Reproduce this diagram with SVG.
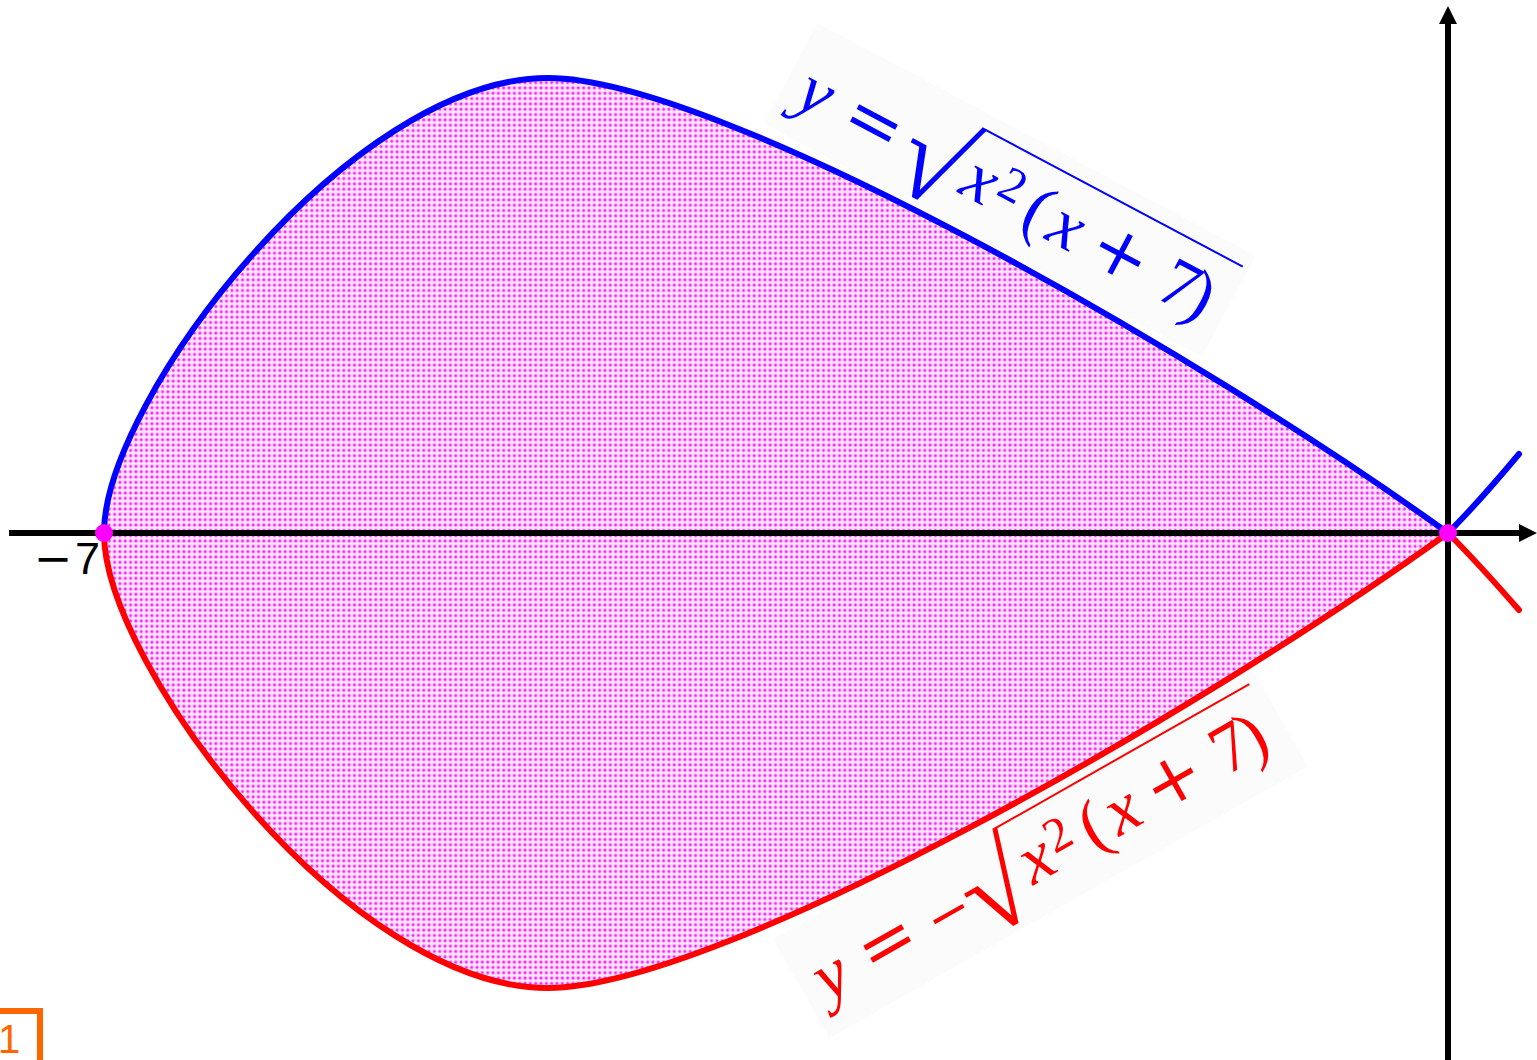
<svg xmlns="http://www.w3.org/2000/svg" width="1537" height="1060" viewBox="0 0 1537 1060">
<style>
.m{font-family:"Liberation Serif","DejaVu Serif",serif;font-size:70px;text-anchor:middle}
.it{font-style:italic}
.sym{font-family:"DejaVu Serif",serif;font-size:70px}
.rad{font-family:"Liberation Serif",serif;font-size:118px}
.blue{fill:#0000ff}
.red{fill:#ff0000}
.lbl{fill:#fbfbfb}
.axis{stroke:#000;stroke-width:6;fill:none}
.curve{fill:none;stroke-width:6;stroke-linejoin:round;stroke-linecap:round}
.pt{fill:#ff00ff}
</style>
<defs>
<pattern id="dots" width="5.33" height="5.33" patternUnits="userSpaceOnUse">
<rect width="5.33" height="5.33" fill="#ffe6ff"/>
<circle cx="2.67" cy="2.67" r="1.7" fill="#ff66ff"/>
<circle cx="2.67" cy="2.67" r="0.9" fill="#ff00ff"/>
</pattern>
<marker id="arr" viewBox="0 0 18 18" markerWidth="18" markerHeight="18" refX="0" refY="9" orient="auto" markerUnits="userSpaceOnUse">
<path d="M0,0 L18,9 L0,18 Z" fill="#000"/>
</marker>
</defs>
<rect width="1537" height="1060" fill="#fff"/>

<g id="label-upper-bg" transform="translate(806.2,112.1) rotate(28)">
<rect class="lbl" x="-32" y="-84" width="496" height="114"/>
</g>
<g id="label-lower-bg" transform="translate(841.5,994.5) rotate(-29.6)">
<rect class="lbl" x="-32" y="-82" width="550" height="114"/>
</g>

<g id="region">
<path d="M104,533 C104,400 350,78 548,78 C720,78 1200,354 1448,533 C1200,712 720,988 548,988 C350,988 104,666 104,533 Z" fill="url(#dots)"/>
</g>

<g id="axes">
<line class="axis" x1="9" y1="533" x2="1519" y2="533" marker-end="url(#arr)"/>
<line class="axis" x1="1448" y1="1060" x2="1448" y2="24" marker-end="url(#arr)"/>
</g>

<g id="connectors">
<path id="upper-curve" class="curve" stroke="#0000ff" d="M104,533 C104,400 350,78 548,78 C720,78 1200,354 1448,533 Q1478,503 1519,454"/>
<path id="lower-curve" class="curve" stroke="#ff0000" d="M104,533 C104,666 350,988 548,988 C720,988 1200,712 1448,533 Q1478,563 1519,610"/>
</g>

<g id="point-left"><circle class="pt" cx="104" cy="533" r="9"/></g>
<g id="point-origin"><circle class="pt" cx="1448" cy="533" r="9"/></g>

<g id="tick-label">
<text x="53" y="574" font-family="DejaVu Sans, sans-serif" font-size="46" text-anchor="middle" fill="#000">−</text>
<text x="100" y="574" font-family="Liberation Sans, Arial, sans-serif" font-size="45" text-anchor="end" fill="#000">7</text>
</g>

<g id="label-upper" transform="translate(806.2,112.1) rotate(28)">
<text class="m it blue" x="0" y="0">y</text>
<text class="m sym blue" x="65" y="0">=</text>
<text class="rad blue" x="103.4" y="24.4">√</text>
<line x1="163" y1="-68.5" x2="458" y2="-68.5" stroke="#0000ff" stroke-width="2"/>
<text class="m it blue" x="186" y="0">x</text>
<text class="m blue" x="217" y="-16.5" style="font-size:49px">2</text>
<text class="m blue" x="251" y="0">(</text>
<text class="m it blue" x="284" y="0">x</text>
<text class="m sym blue" x="344" y="0">+</text>
<text class="m blue" x="411" y="0">7</text>
<text class="m blue" x="435" y="0">)</text>
</g>

<g id="label-lower" transform="translate(841.5,994.5) rotate(-29.6)">
<text class="m it red" x="0" y="0">y</text>
<text class="m sym red" x="65" y="0">=</text>
<text class="m sym red" x="133" y="0" style="font-size:54px">−</text>
<text class="rad red" x="153.4" y="24.4">√</text>
<line x1="213" y1="-68.5" x2="508" y2="-68.5" stroke="#ff0000" stroke-width="2"/>
<text class="m it red" x="236" y="0">x</text>
<text class="m red" x="267" y="-16.5" style="font-size:49px">2</text>
<text class="m red" x="302" y="0">(</text>
<text class="m it red" x="335" y="0">x</text>
<text class="m sym red" x="394" y="0">+</text>
<text class="m red" x="460" y="0">7</text>
<text class="m red" x="485" y="0">)</text>
</g>

<g id="page-number">
<rect x="-10" y="1011" width="50" height="60" fill="none" stroke="#ff6600" stroke-width="6"/>
<text x="-2" y="1053" font-family="Liberation Sans, Arial, sans-serif" font-size="40" fill="#ff6600">1</text>
</g>
</svg>
